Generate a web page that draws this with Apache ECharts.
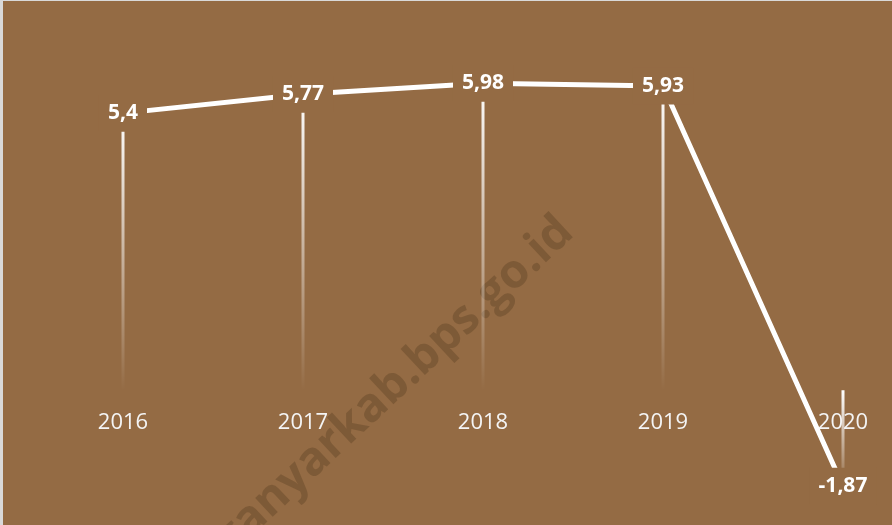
<!DOCTYPE html>
<html>
<head>
<meta charset="utf-8">
<script src="https://cdn.jsdelivr.net/npm/echarts@6/dist/echarts.min.js"></script>
<style>
  html, body { margin: 0; padding: 0; background: #d9d9d9; }
  #chart { position: absolute; left: 3px; top: 1px; width: 889px; height: 524px; }
</style>
</head>
<body>
<div id="chart"></div>
<script>
// pertumbuhan ekonomi (%)
var years = ['2016', '2017', '2018', '2019', '2020'];
var growth = [5.4, 5.77, 5.98, 5.93, -1.87];
var yMin = -2, yMax = 7;

var bg = '#946b44';

var chart = echarts.init(document.getElementById('chart'));

chart.setOption({
  backgroundColor: bg,
  animation: false,
  grid: { left: 30, top: 30, bottom: 32, width: 900, outerBoundsMode: 'none', containLabel: false },
  graphic: [{
    type: 'text',
    x: 340, y: 432,
    rotation: 0.75,
    z: 0,
    style: {
      text: 'karanganyarkab.bps.go.id',
      font: 'bold 47px "Open Sans"',
      fill: 'rgba(70, 45, 20, 0.28)',
      align: 'center',
      verticalAlign: 'middle'
    }
  }],
  xAxis: {
    type: 'category',
    data: years,
    boundaryGap: true,
    axisLine: { show: false },
    axisTick: { show: false },
    axisLabel: {
      margin: 21,
      color: '#f4f4f4',
      fontFamily: 'Open Sans',
      fontSize: 22
    }
  },
  yAxis: {
    type: 'value',
    min: yMin,
    max: yMax,
    show: false,
    splitLine: { show: false }
  },
  series: [
    {
      // garis jatuh dari titik ke sumbu
      type: 'bar',
      data: growth,
      barWidth: 3,
      z: 1,
      itemStyle: {
        color: new echarts.graphic.LinearGradient(0, 0, 0, 1, [
          { offset: 0, color: 'rgba(255,255,255,1)' },
          { offset: 1, color: 'rgba(255,255,255,0)' }
        ])
      }
    },
    {
      type: 'line',
      data: growth,
      z: 3,
      symbol: 'circle',
      symbolSize: 1,
      itemStyle: { color: '#ffffff' },
      lineStyle: { color: '#ffffff', width: 5 },
      label: {
        show: true,
        position: 'inside',
        color: '#ffffff',
        fontFamily: 'Open Sans',
        fontWeight: 'bold',
        fontSize: 21,
        backgroundColor: bg,
        padding: [8, 9],
        formatter: function (p) { return String(p.value).replace('.', ','); }
      }
    }
  ]
});

// label tahun diletakkan di garis nol
var zeroPx = chart.convertToPixel({ yAxisIndex: 0 }, 0);
var minPx = chart.convertToPixel({ yAxisIndex: 0 }, yMin);
chart.setOption({ xAxis: { offset: -(minPx - zeroPx) } });
</script>
</body>
</html>
